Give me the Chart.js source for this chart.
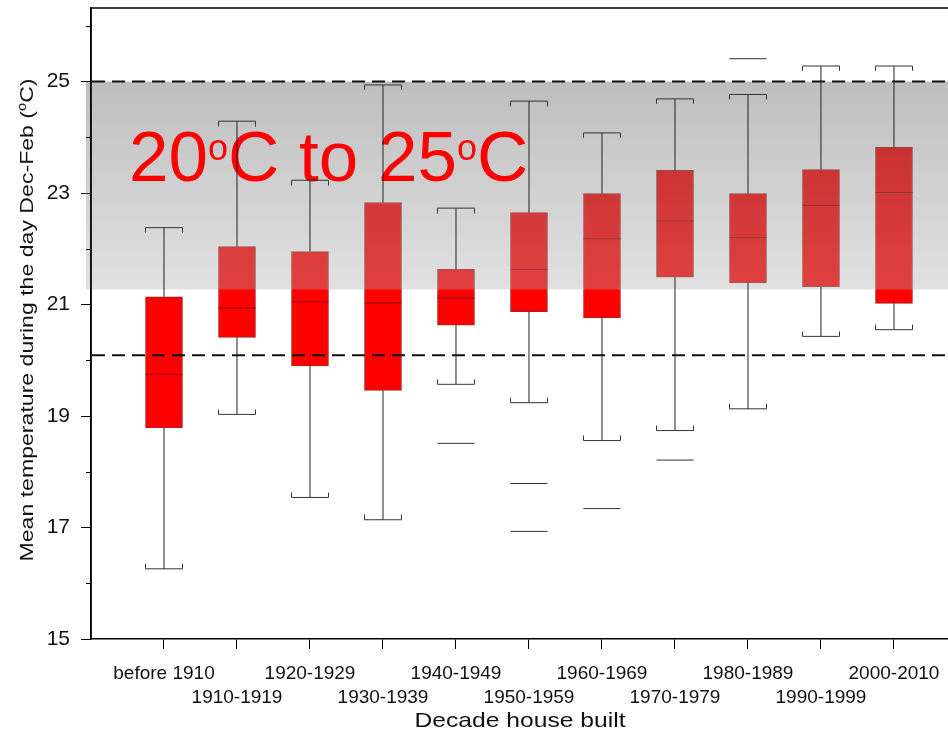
<!DOCTYPE html>
<html><head><meta charset="utf-8">
<script src="https://cdn.jsdelivr.net/npm/chart.js@4.4.1/dist/chart.umd.min.js"></script>
<style>html,body{margin:0;padding:0;background:#fff;} canvas{display:block;}</style>
</head><body>
<canvas id="c" width="948" height="731"></canvas>
<script>
// ---------- data ----------
const categories = ['before 1910','1910-1919','1920-1929','1930-1939','1940-1949','1950-1959',
                    '1960-1969','1970-1979','1980-1989','1990-1999','2000-2010'];
const whiskerHigh = [22.38, 24.29, 23.23, 24.94, 22.73, 24.65, 24.08, 24.69, 24.77, 25.28, 25.28];
const q3          = [21.14, 22.04, 21.95, 22.83, 21.63, 22.65, 22.99, 23.41, 22.99, 23.42, 23.82];
const median      = [19.75, 20.94, 21.05, 21.03, 21.12, 21.63, 22.18, 22.50, 22.20, 22.78, 23.01];
const q1          = [18.79, 20.41, 19.90, 19.46, 20.63, 20.87, 20.76, 21.49, 21.39, 21.32, 21.02];
const whiskerLow  = [16.26, 19.03, 17.54, 17.14, 19.57, 19.24, 18.56, 18.74, 19.13, 20.43, 20.55];
const outliers    = [[], [], [], [], [18.51], [17.79, 16.93], [17.34], [18.21], [25.41], [], []];
const yTickValues = [15, 16, 17, 18, 19, 20, 21, 22, 23, 24, 25, 26];
const yLabelled   = [15, 17, 19, 21, 23, 25];
const comfortBand = [21.27, 25];
const refLines    = [25, 20.09];
const bandLabel   = ['20', 'o', 'C to 25', 'o', 'C'];
const yTitle      = ['Mean temperature during the day Dec-Feb (', 'o', 'C)'];
const xTitle      = 'Decade house built';

const FONT = '"Liberation Sans", Arial, Helvetica, sans-serif';

function capImage(dir) {
  const w = 38, h = 11, mid = 5.5;
  const c = document.createElement('canvas'); c.width = w; c.height = h;
  const g = c.getContext('2d');
  g.strokeStyle = '#333'; g.lineWidth = 1;
  g.beginPath();
  g.moveTo(0.5, mid + dir * 5); g.lineTo(0.5, mid); g.lineTo(w - 0.5, mid); g.lineTo(w - 0.5, mid + dir * 5);
  g.stroke();
  return c;
}
const topCap = capImage(1), bottomCap = capImage(-1);

const whiskerPts = [];
categories.forEach((_, i) => {
  whiskerPts.push({x: i, y: whiskerLow[i]}, {x: i, y: q1[i]}, {x: i, y: null},
                  {x: i, y: q3[i]}, {x: i, y: whiskerHigh[i]}, {x: i, y: null});
});
const outlierPts = [];
outliers.forEach((arr, i) => arr.forEach(v => outlierPts.push({x: i, y: v})));

function noPad(s) { s.paddingTop = 0; s.paddingBottom = 0; s.paddingLeft = 0; s.paddingRight = 0; }

const overlay = {
  id: 'overlay',
  afterDatasetDraw(chart, args) {
    const ds = chart.data.datasets[args.index];
    if (ds.id !== 'median') return;
    const ctx = chart.ctx, ys = chart.scales.y, a = chart.chartArea;
    const top = ys.getPixelForValue(comfortBand[1]), bot = ys.getPixelForValue(comfortBand[0]);
    const grad = ctx.createLinearGradient(0, top, 0, bot);
    grad.addColorStop(0, 'rgba(99,99,99,0.42)');
    grad.addColorStop(1, 'rgba(172,172,172,0.37)');
    ctx.save();
    ctx.fillStyle = grad;
    ctx.fillRect(a.left - 5, top, a.right - a.left + 5, bot - top);
    ctx.fillStyle = '#ff0000';
    ctx.textAlign = 'left'; ctx.textBaseline = 'alphabetic';
    let x = 129;
    bandLabel.forEach(t => {
      const sup = t === 'o';
      ctx.font = (sup ? '36px ' : '71px ') + FONT;
      ctx.fillText(t, x, sup ? 160 : 181);
      x += ctx.measureText(t).width;
    });
    ctx.restore();
  },
  afterDatasetsDraw(chart) {
    const ctx = chart.ctx, ys = chart.scales.y, a = chart.chartArea;
    ctx.save();
    ctx.strokeStyle = '#000'; ctx.lineWidth = 1.5;
    ctx.beginPath();
    ctx.moveTo(a.left, a.bottom); ctx.lineTo(a.left, a.top); ctx.lineTo(a.right, a.top);
    ctx.stroke();
    ctx.lineWidth = 1;
    yTickValues.filter(v => !yLabelled.includes(v)).forEach(v => {
      const y = Math.round(ys.getPixelForValue(v)) + 0.5;
      ctx.beginPath(); ctx.moveTo(a.left - 5, y); ctx.lineTo(a.left, y); ctx.stroke();
    });
    ctx.strokeStyle = '#111'; ctx.lineWidth = 2; ctx.setLineDash([13, 7]);
    refLines.forEach(v => {
      const y = ys.getPixelForValue(v);
      ctx.beginPath(); ctx.moveTo(a.left + 1, y); ctx.lineTo(a.right, y); ctx.stroke();
    });
    ctx.restore();
  },
  afterDraw(chart) {
    const ctx = chart.ctx;
    ctx.save();
    ctx.fillStyle = '#111';
    ctx.textBaseline = 'alphabetic'; ctx.textAlign = 'left';
    ctx.translate(33, 320); ctx.rotate(-Math.PI / 2);
    const fonts = ['19px ' + FONT, '12px ' + FONT, '19px ' + FONT];
    const ws = yTitle.map((t, i) => { ctx.font = fonts[i]; return ctx.measureText(t).width; });
    const total = ws.reduce((p, c) => p + c, 0);
    ctx.scale(483 / total, 1);
    let x = -total / 2;
    yTitle.forEach((t, i) => {
      ctx.font = fonts[i];
      ctx.fillText(t, x, i === 1 ? -7 : 0);
      x += ws[i];
    });
    ctx.restore();
    ctx.save();
    ctx.fillStyle = '#111';
    ctx.font = '21px ' + FONT;
    const w = ctx.measureText(xTitle).width;
    ctx.translate(520, 727);
    ctx.scale(211 / w, 1);
    ctx.textAlign = 'center'; ctx.textBaseline = 'alphabetic';
    ctx.fillText(xTitle, 0, 0);
    ctx.restore();
  }
};

new Chart(document.getElementById('c'), {
  type: 'bar',
  data: {
    datasets: [
      { id: 'box', type: 'bar', order: 10,
        data: q1.map((v, i) => ({x: i, y: [v, q3[i]]})),
        backgroundColor: '#ff0000', borderColor: 'rgba(140,0,0,0.85)', borderWidth: 1,
        borderSkipped: false, barThickness: 37 },
      { id: 'median', type: 'line', order: 9, showLine: false,
        data: median.map((v, i) => ({x: i, y: v})),
        pointStyle: 'line', pointRadius: 18.5, pointBorderColor: '#8b0000', pointBorderWidth: 1 },
      { id: 'whisker', type: 'line', order: 3, data: whiskerPts, spanGaps: false,
        borderColor: '#222', borderWidth: 1, pointRadius: 0, fill: false },
      { id: 'capHigh', type: 'line', order: 2, showLine: false,
        data: whiskerHigh.map((v, i) => ({x: i, y: v})), pointStyle: topCap, pointRadius: 3 },
      { id: 'capLow', type: 'line', order: 2, showLine: false,
        data: whiskerLow.map((v, i) => ({x: i, y: v})), pointStyle: bottomCap, pointRadius: 3 },
      { id: 'outlier', type: 'line', order: 1, showLine: false, data: outlierPts,
        pointStyle: 'line', pointRadius: 18.5, pointBorderColor: '#333', pointBorderWidth: 1 }
    ]
  },
  options: {
    responsive: false, devicePixelRatio: 1, animation: false,
    layout: { autoPadding: false, padding: { top: 8, left: 0, right: 0, bottom: 0 } },
    plugins: { legend: { display: false }, tooltip: { enabled: false } },
    scales: {
      x: {
        type: 'linear', min: -1, max: 10.74, offset: false,
        afterBuildTicks: s => { s.ticks = categories.map((_, i) => ({value: i})); },
        afterFit: s => { s.height = 92; noPad(s); },
        ticks: {
          autoSkip: false, maxRotation: 0, minRotation: 0, padding: 13,
          color: '#111', font: { family: FONT, size: 19, lineHeight: 1.24 },
          callback: v => (v % 2 === 0 ? [categories[v], ''] : ['', categories[v]])
        },
        grid: { offset: false, drawOnChartArea: false, drawTicks: true, tickLength: 10, color: '#000', tickColor: '#000', lineWidth: 1 },
        border: { display: true, color: '#000', width: 1.5 }
      },
      y: {
        type: 'linear', min: 15, max: 26.32,
        afterBuildTicks: s => { s.ticks = yTickValues.map(v => ({value: v})); },
        afterFit: s => { s.width = 91; noPad(s); },
        ticks: {
          padding: 11, color: '#111', font: { family: FONT, size: 21 },
          callback: v => (yLabelled.includes(v) ? String(v) : '')
        },
        grid: { drawOnChartArea: false, drawTicks: true, tickLength: 10,
                tickColor: c => (c.tick && yLabelled.includes(c.tick.value) ? '#000' : 'rgba(0,0,0,0)'),
                color: 'rgba(0,0,0,0)' },
        border: { display: true, color: '#000', width: 1.5 }
      }
    }
  },
  plugins: [overlay]
});
</script>
</body></html>
